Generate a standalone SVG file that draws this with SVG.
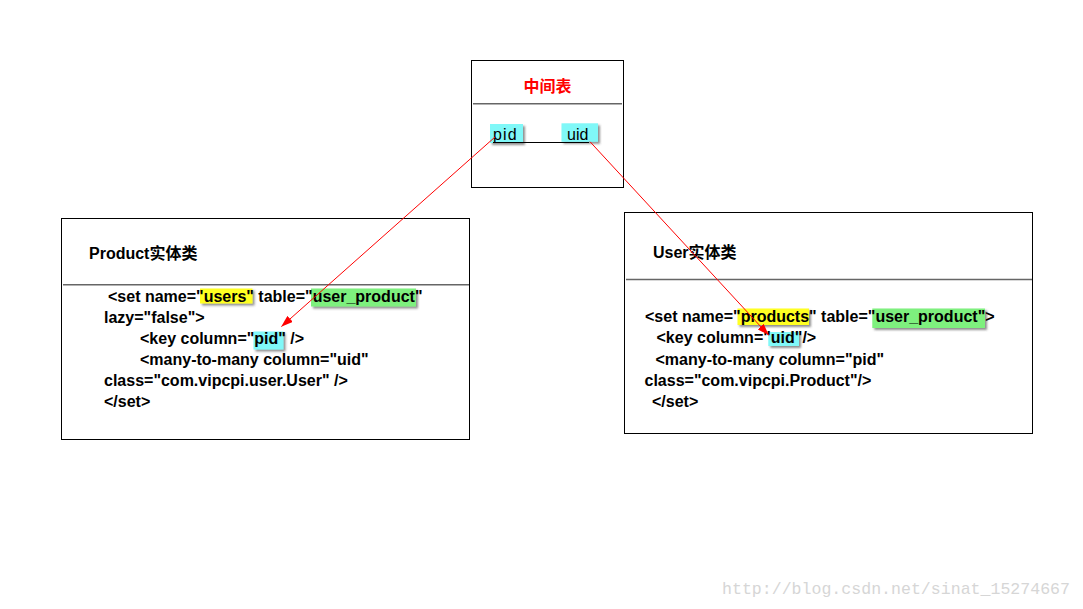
<svg xmlns="http://www.w3.org/2000/svg" width="1083" height="609" viewBox="0 0 1083 609">
<style>
.box{fill:#fff;stroke:#000;stroke-width:1}
.sep{stroke:#666;stroke-width:1.5}
.t{font-family:"Liberation Sans",Arial,sans-serif;font-size:16px;font-weight:bold;fill:#000}
.m{font-family:"Liberation Sans",Arial,sans-serif;font-size:16px;fill:#000}
.title{font-family:"Liberation Sans","Noto Sans CJK SC",sans-serif;font-size:16px;font-weight:bold;fill:#000}
.cjk{font-family:"Noto Sans CJK SC",sans-serif}
.hy{fill:#ffff22;filter:url(#ds)}
.hg{fill:#7ef07e;filter:url(#ds)}
.hc{fill:#80f8f8;filter:url(#ds)}
.arrow{stroke:#f00;stroke-width:1;fill:none;marker-end:url(#ah)}
</style>
<defs>
<filter id="ds" x="-20%" y="-30%" width="140%" height="170%">
<feDropShadow dx="2" dy="2" stdDeviation="1.2" flood-color="#444" flood-opacity="0.6"/>
</filter>
<marker id="ah" viewBox="0 0 12 8" refX="11.5" refY="4" markerWidth="12" markerHeight="8" markerUnits="userSpaceOnUse" orient="auto">
<path d="M0,0 L12,4 L0,8 Z" fill="#f00"/>
</marker>
</defs>
<rect width="1083" height="609" fill="#fff"/>

<g id="middle">
<rect class="box" x="471.5" y="60.5" width="152" height="127"/>
<text x="547.5" y="92" text-anchor="middle" class="cjk" style="font-size:16px;font-weight:bold;fill:#f00">中间表</text>
<line class="sep" x1="473" y1="103.8" x2="622" y2="103.8"/>
<rect class="hc" x="490" y="124" width="33" height="19"/>
<rect class="hc" x="561.5" y="123.3" width="36.5" height="18.5"/>
<line x1="493" y1="142.5" x2="589" y2="142.5" stroke="#000" stroke-width="1"/>
<text class="m" x="493" y="139.5" letter-spacing="1.2">pid</text>
<text class="m" x="567" y="139.5">uid</text>
</g>

<g id="product">
<rect class="box" x="61.5" y="218.5" width="408" height="221"/>
<text class="title" x="89" y="259">Product<tspan class="cjk">实体类</tspan></text>
<line class="sep" x1="63" y1="284.7" x2="469" y2="284.7"/>
<rect class="hy" x="200" y="288.5" width="52.5" height="15"/>
<rect class="hg" x="311" y="288.5" width="105" height="18"/>
<rect class="hc" x="253.5" y="331.5" width="30" height="18"/>
<text class="t" x="108" y="302">&lt;set name="users" table="user_product"</text>
<text class="t" x="104" y="323">lazy="false"&gt;</text>
<text class="t" x="140" y="344">&lt;key column="pid" /&gt;</text>
<text class="t" x="140" y="365">&lt;many-to-many column="uid"</text>
<text class="t" x="104" y="386">class="com.vipcpi.user.User" /&gt;</text>
<text class="t" x="104" y="407">&lt;/set&gt;</text>
</g>

<g id="user">
<rect class="box" x="624.5" y="212.5" width="408" height="221"/>
<text class="title" x="653" y="258">User<tspan class="cjk">实体类</tspan></text>
<line class="sep" x1="626" y1="279.5" x2="1032" y2="279.5"/>
<rect class="hy" x="737.5" y="308.5" width="71.5" height="16.5"/>
<rect class="hg" x="872.3" y="308.5" width="112.7" height="19.5"/>
<rect class="hc" x="768.3" y="332" width="30.7" height="14"/>
<text class="t" x="645" y="322">&lt;set name="products" table="user_product"&gt;</text>
<text class="t" x="656.5" y="343">&lt;key column="uid"/&gt;</text>
<text class="t" x="655.5" y="365">&lt;many-to-many column="pid"</text>
<text class="t" x="644.5" y="386">class="com.vipcpi.Product"/&gt;</text>
<text class="t" x="652" y="407">&lt;/set&gt;</text>
</g>

<g id="connectors">
<line class="arrow" x1="495" y1="137" x2="281.5" y2="326.5"/>
<line class="arrow" x1="590" y1="141.7" x2="768.5" y2="335"/>
</g>

<text x="722" y="594" textLength="348" lengthAdjust="spacingAndGlyphs" style="font-family:'Liberation Mono',monospace;font-size:17px;fill:#d6d6d6">http://blog.csdn.net/sinat_15274667</text>
</svg>
